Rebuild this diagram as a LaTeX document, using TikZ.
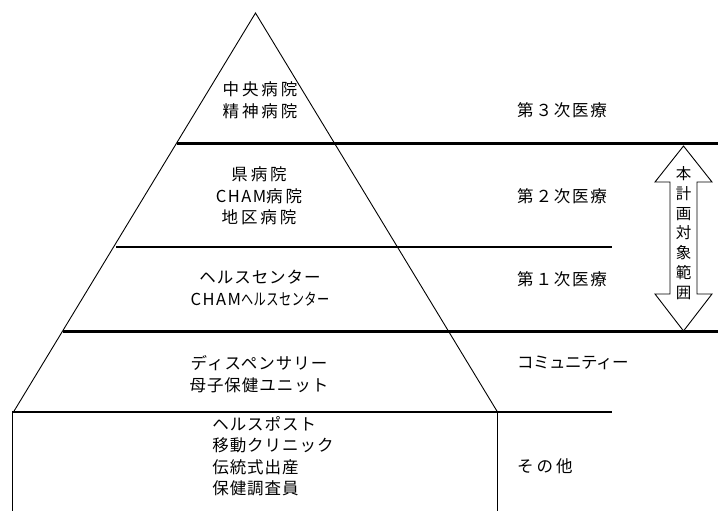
\documentclass[tikz,border=0pt]{standalone}
\usepackage{graphicx}
\usepackage{fontspec}
\setmainfont{Noto Sans CJK JP}
\newfontfamily\jpwide{Noto Sans CJK JP}[LetterSpace=18]
\newfontfamily\jpmid{Noto Sans CJK JP}[LetterSpace=11]
\newfontfamily\jpnarrow{Noto Sans CJK JP}[LetterSpace=6]
\newfontfamily\jptight{Noto Sans CJK JP}[LetterSpace=-3]
\newfontfamily\jpcond{Noto Sans CJK JP}[LetterSpace=4]
\newfontfamily\jplatin{Noto Sans CJK JP}[LetterSpace=9]
\begin{document}
\begin{tikzpicture}[x=1pt,y=-1pt,
  lbl/.style={font={#1\fontsize{16.5}{21.5}\selectfont}, align=center, inner sep=0pt},
  rlbl/.style={font={#1\fontsize{16.5}{20}\selectfont}, anchor=west, inner sep=0pt},
  thickline/.style={line width=3pt},
  thinline/.style={line width=1.3pt},
  edge/.style={line width=0.9pt}]
\useasboundingbox (0,0) rectangle (718,511);
% pyramid
\draw[edge] (13.5,412) -- (255.5,13) -- (497.5,412);
% box below
\draw[edge] (12,511) -- (12,412) -- (497,412) -- (497,511);
% level lines
\draw[thickline] (177,143) -- (718,143);
\draw[thinline] (116,247) -- (612,247);
\draw[thickline] (63,331) -- (718,331);
\draw[thinline] (12,412) -- (612,412);
% double arrow
\draw[edge, fill=white] (683.5,146) -- (712,182) -- (697,182) -- (697,294) -- (712,294)
  -- (683.5,331) -- (655,294) -- (670,294) -- (670,182) -- (655,182) -- cycle;
\node[font=\fontsize{15.5}{19.8}\selectfont, align=center, inner sep=0pt] (scope) at (683.5,233)
  {本\\計\\画\\対\\象\\範\\囲};
% pyramid texts
\node[lbl=\jpwide] (t3) at (260,100) {中央病院\\精神病院};
\node[lbl=\jpwide] (t2) at (259,196) {県病院\\{\jplatin CHAM}病院\\地区病院};
\node[lbl=\jpnarrow] (t1) at (260,288) {ヘルスセンター\\{\jplatin CHAM}\scalebox{0.74}[1]{\jpcond ヘルスセンター}};
\node[lbl=\jpnarrow] (tc) at (259,374) {ディスペンサリー\\母子保健ユニット};
\node[lbl=\jpnarrow, align=left] (to) at (273,456) {ヘルスポスト\\移動クリニック\\伝統式出産\\保健調査員};
% right labels
\node[rlbl=\jpmid] (r3) at (517,110) {第３次医療};
\node[rlbl=\jpmid] (r2) at (517,196) {第２次医療};
\node[rlbl=\jpmid] (r1) at (517,279) {第１次医療};
\node[rlbl=\jptight] (rc) at (517,363) {コミュニティー};
\node[rlbl=\jpwide] (ro) at (517,466) {その他};
\end{tikzpicture}
\end{document}
